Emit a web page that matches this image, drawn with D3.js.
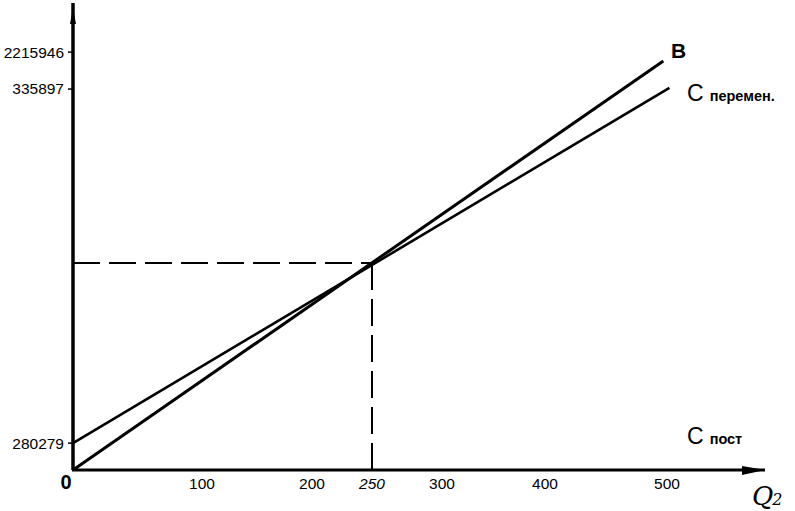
<!DOCTYPE html>
<html><head><meta charset="utf-8">
<script src="https://cdn.jsdelivr.net/npm/d3@7"></script>
<style>body{margin:0;background:#fff}svg{display:block}</style>
</head><body>
<script>
// ---- data ----
const xTicks = [100, 200, 250, 300, 400, 500];
const xBreaks = [0, 100, 200, 250, 300, 400, 500];
// y values are in relative level units (0..100) of the sketch axis
const yTickLevels = [6.4, 90.7, 99.5];
const yTickLabels = ["280279", "335897", "2215946"];
const seriesB = [{q: 0, v: 0}, {q: 497, v: 97.4}];
const seriesC = [{q: 0, v: 6.4}, {q: 502, v: 91.0}];
const breakEven = {q: 250, v: 49.3};

const W = 795, H = 511;
const svg = d3.select("body").append("svg").attr("width", W).attr("height", H);

const x = d3.scaleLinear().domain(xBreaks).range([73, 202, 312, 372, 442, 545, 667]);
const y = d3.scaleLinear().domain([0, 100]).range([470, 50]);
const x0 = x(0), y0 = y(0);

// axes
svg.append("line").attr("x1", x0).attr("y1", y0).attr("x2", x0).attr("y2", 3)
  .attr("stroke", "#000").attr("stroke-width", 3.5);
svg.append("path").attr("d", `M${x0-3},24 L${x0},8 L${x0+3},24 Z`).attr("fill", "#000");
svg.append("line").attr("x1", x0 - 1).attr("y1", y0).attr("x2", 765).attr("y2", y0)
  .attr("stroke", "#000").attr("stroke-width", 3);
svg.append("path").attr("d", `M742,${y0-4} L765,${y0} L742,${y0+5} Z`).attr("fill", "#000");

// y ticks
const yg = svg.append("g").attr("font-family", "Liberation Sans, Arial, sans-serif").attr("font-size", 15.5);
yTickLevels.forEach((v, i) => {
  yg.append("line").attr("x1", x0 - 5).attr("x2", x0).attr("y1", y(v)).attr("y2", y(v))
    .attr("stroke", "#000").attr("stroke-width", 1.5);
  yg.append("text").attr("x", x0 - 9).attr("y", y(v)).attr("dy", "0.35em")
    .attr("text-anchor", "end").text(yTickLabels[i]);
});

// x tick labels
const xg = svg.append("g").attr("font-family", "Liberation Sans, Arial, sans-serif").attr("font-size", 15.5);
xTicks.forEach(t => {
  xg.append("text").attr("x", x(t)).attr("y", 489).attr("text-anchor", "middle")
    .attr("font-style", t === 250 ? "italic" : "normal").text(t);
});
svg.append("text").attr("x", 66).attr("y", 489).attr("text-anchor", "middle")
  .attr("font-family", "Liberation Sans, Arial, sans-serif").attr("font-size", 20)
  .attr("font-weight", "bold").text("0");

// dashed break-even lines
const dash = "27,9";
svg.append("line").attr("x1", x0).attr("y1", y(breakEven.v)).attr("x2", x(breakEven.q)).attr("y2", y(breakEven.v))
  .attr("stroke", "#000").attr("stroke-width", 2).attr("stroke-dasharray", dash);
svg.append("line").attr("x1", x(breakEven.q)).attr("y1", y(breakEven.v)).attr("x2", x(breakEven.q)).attr("y2", y0)
  .attr("stroke", "#000").attr("stroke-width", 2).attr("stroke-dasharray", dash);

// lines
const line = d3.line().x(d => x(d.q)).y(d => y(d.v));
svg.append("path").datum(seriesB).attr("d", line).attr("fill", "none").attr("stroke", "#000").attr("stroke-width", 3);
svg.append("path").datum(seriesC).attr("d", line).attr("fill", "none").attr("stroke", "#000").attr("stroke-width", 2.6);

// labels
const lf = "Liberation Sans, Arial, sans-serif";
svg.append("text").attr("x", 671).attr("y", 58).attr("font-family", lf).attr("font-size", 21).attr("font-weight", "bold").text("B");
const tc = svg.append("text").attr("x", 687).attr("y", 101).attr("font-family", lf);
tc.append("tspan").attr("font-size", 23).text("C");
tc.append("tspan").attr("font-size", 14.5).attr("font-weight", "bold").attr("dx", 6).text("перемен.");
const tp = svg.append("text").attr("x", 687).attr("y", 444).attr("font-family", lf);
tp.append("tspan").attr("font-size", 23).text("C");
tp.append("tspan").attr("font-size", 14.5).attr("font-weight", "bold").attr("dx", 6).text("пост");

// Q axis title
const tq = svg.append("text").attr("x", 752).attr("y", 505).attr("font-family", "DejaVu Serif, serif").attr("font-style", "italic");
tq.append("tspan").attr("font-size", 26).text("Q");
tq.append("tspan").attr("font-size", 16).attr("dx", -1).text("2");
</script>
</body></html>
